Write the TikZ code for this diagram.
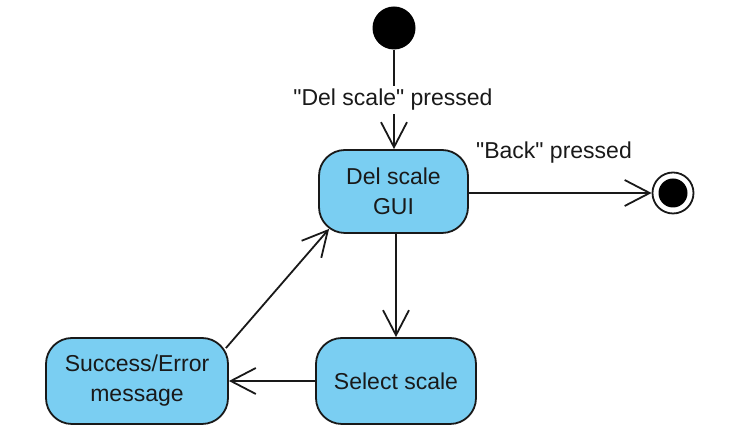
\documentclass[tikz,border=0pt]{standalone}
\usepackage{fontspec}
\newfontfamily\lsans{Liberation Sans}
\usetikzlibrary{arrows.meta}
\definecolor{stfill}{RGB}{122,206,242}
\definecolor{ink}{RGB}{25,25,25}
\begin{document}
\begin{tikzpicture}[x=1pt,y=1pt,
  every node/.style={font=\lsans\fontsize{23}{30}\selectfont, text=ink},
  state/.style={draw=ink, fill=stfill, line width=1.8pt, rounded corners=26pt, align=center, inner sep=0pt},
  conn/.style={draw=ink, line width=1.8pt, -{Straight Barb[length=25pt,width=26pt,line width=1.8pt]}},
  lbl/.style={fill=white, inner sep=3pt}]
\useasboundingbox (0,0) rectangle (740,444);
\node[circle, fill=black, minimum size=43pt, inner sep=0pt] (init) at (394,416) {};
\node[state, minimum width=149pt, minimum height=83pt] (gui) at (393.5,252.5) {Del scale\\GUI};
\node[state, minimum width=160pt, minimum height=86pt] (sel) at (396,63) {Select scale};
\node[state, minimum width=182pt, minimum height=86pt] (succ) at (137,63) {Success/Error\\message};
\node[circle, draw=ink, fill=white, line width=1.8pt, minimum size=41pt, inner sep=0pt] (final) at (673,251) {};
\node[circle, fill=black, minimum size=29pt, inner sep=0pt] (finalin) at (final) {};
\draw[conn] (init) -- (init |- gui.north);
\node[lbl, anchor=base] (l1) at (393,338) {"Del scale" pressed};
\draw[conn] (gui.east |- final.west) -- (final.west);
\node[anchor=base] (l2) at (554,285) {"Back" pressed};
\draw[conn] (sel.north |- gui.south) -- (sel.north);
\draw[conn] (sel.west) -- (succ.east);
\draw[conn] ([shift={(-3,-11)}]succ.north east) -- ([shift={(11,5)}]gui.south west);
\end{tikzpicture}
\end{document}
